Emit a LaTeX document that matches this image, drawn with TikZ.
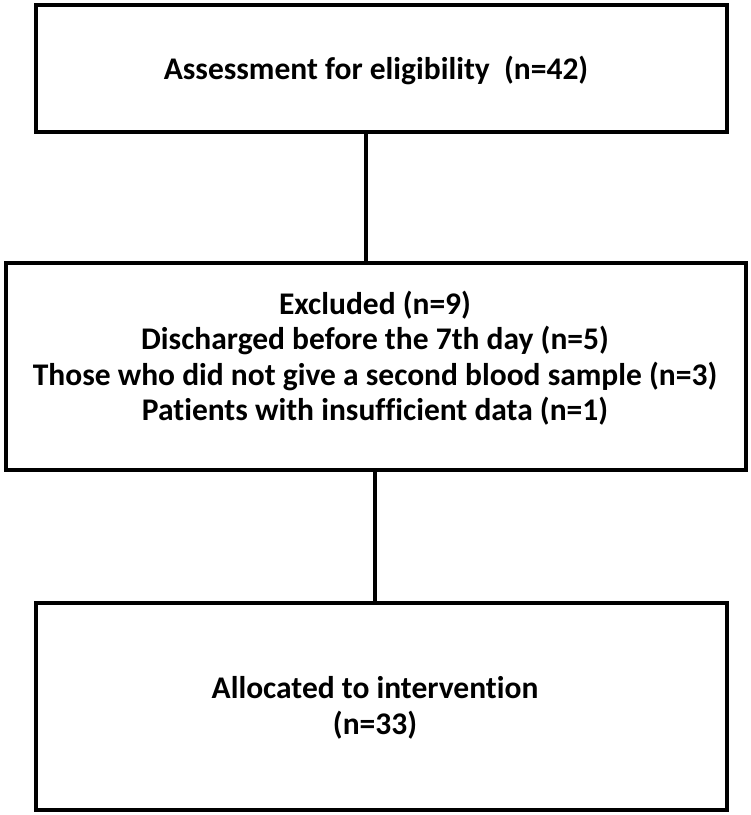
\documentclass[tikz,border=0pt]{standalone}
\usepackage{fontspec}
\setmainfont[Ligatures=NoCommon]{Carlito}
\begin{document}
\begin{tikzpicture}[x=1pt,y=-1pt,
  box/.style={draw, line width=4pt, inner sep=0pt, outer sep=0pt},
  txt/.style={font=\bfseries\fontsize{31.5}{35.5}\selectfont, align=center, inner sep=0pt},
  link/.style={line width=4pt}]
\useasboundingbox (0,0) rectangle (751,815);
\node[box, minimum width=691pt, minimum height=127pt] (b1) at (381.5,68.5) {};
\node[box, minimum width=740pt, minimum height=207pt] (b2) at (376,366.5) {};
\node[box, minimum width=691pt, minimum height=207pt] (b3) at (381.5,706.5) {};
\node[txt] (t1) at (376,70) {Assessment for eligibility\ \ (n=42)};
\node[txt] (t2) at (375,358) {Excluded (n=9)\\Discharged before the 7th day (n=5)\\Those who did not give a second blood sample (n=3)\\Patients with insufficient data (n=1)};
\node[txt] (t3) at (375,708) {Allocated to intervention\\(n=33)};
\coordinate (c1) at (366,0);
\coordinate (c2) at (375,0);
\draw[link] (b1.south -| c1) -- (b2.north -| c1);
\draw[link] (b2.south -| c2) -- (b3.north -| c2);
\end{tikzpicture}
\end{document}
